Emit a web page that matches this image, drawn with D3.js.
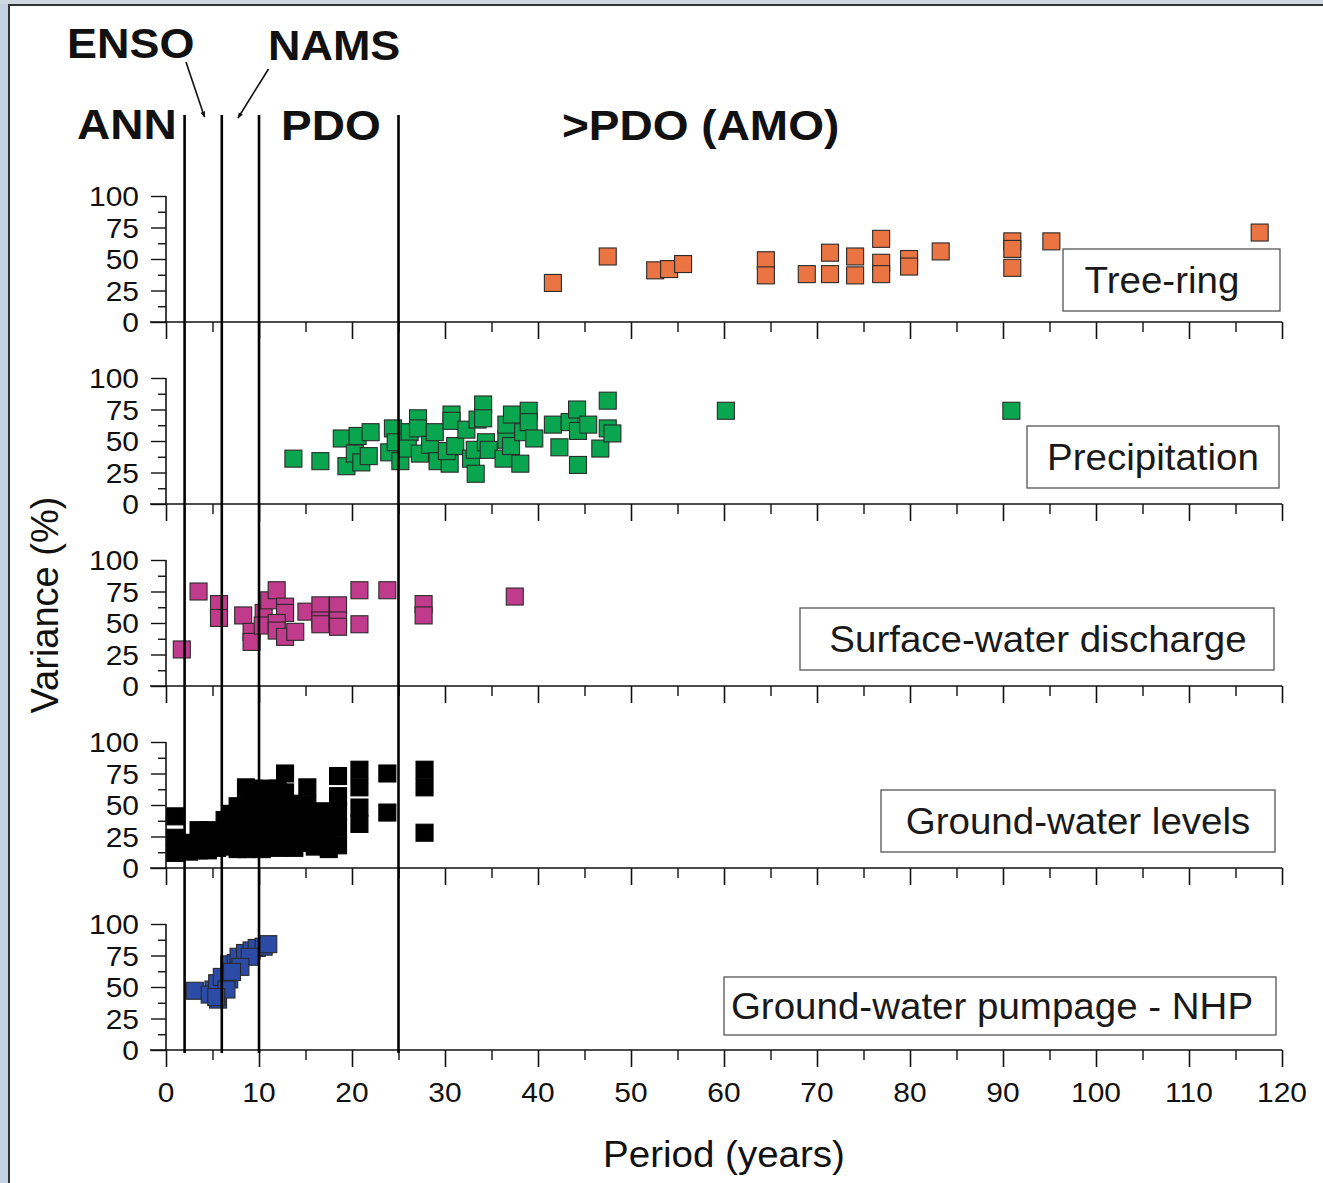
<!DOCTYPE html>
<html><head><meta charset="utf-8">
<script src="https://cdn.jsdelivr.net/npm/d3@7"></script>
<style>html,body{margin:0;padding:0;background:#fff;overflow:hidden}</style>
</head><body><svg id="c" width="1323" height="1183"></svg>
<script>
// ---------------- data ----------------
const periodTicks = [0,10,20,30,40,50,60,70,80,90,100,110,120];
const varianceTicks = [0,25,50,75,100];
const bandBoundaries = [2,6,10,25];
const seriesNames = ["Tree-ring","Precipitation","Surface-water discharge","Ground-water levels","Ground-water pumpage - NHP"];
const seriesColors = ["#ea7442","#0aa54f","#c03b8c","#000000","#2b4ba7"];

const treeRing = [[41.6,31],[47.5,52],[52.6,41],[54.1,42],[55.6,46],[64.5,49],[64.5,37],[68.9,38],
  [71.4,55],[71.4,38],[74.1,52],[74.1,37],[76.9,66],[76.9,47],[76.9,38],[79.9,50],[79.9,44],
  [83.3,56],[91,64],[91,58],[91,43],[95.2,64],[117.6,71]];

const precipitation = [[13.7,36],[16.6,34],[18.9,52],[19.4,30],[20.6,54],[20.3,40],[21,33],[21.8,38],
  [22,57],[24,41],[24.4,60],[24.7,49],[25.2,34],[26.2,57],[26,44],[27.1,68],[27.1,60],[27.3,40],
  [28.4,47],[28.9,57],[29.2,34],[30.5,32],[30.7,71],[30.7,66],[30.2,42],[31.1,46],[32.3,59],
  [32.8,36],[33.2,43],[33.3,24],[33.5,67],[34.1,79],[34.1,68],[34.4,49],[34.7,43],[36.3,36],
  [36.6,51],[36.6,63],[37.2,71],[37.1,46],[38.1,32],[38.4,57],[39,74],[39,65],[39.6,52],
  [41.6,63],[42.3,45],[43.4,65],[44.2,75],[44.3,58],[44.3,31],[45.4,63],[46.7,44],[47.5,82],
  [47.5,60],[48,56],[60.2,74],[90.9,74]];

const surfaceWater = [[1.7,29],[3.5,75],[5.7,65],[5.7,54],[8.3,56],[9.2,43],[9.2,35],[10.5,58],
  [10.4,48],[11.1,68],[11.9,76],[12.8,63],[12.8,58],[11.9,50],[11.9,44],[12.8,39],[13.9,43],
  [15.1,59],[16.6,64],[16.6,52],[16.6,49],[18.5,64],[18.5,52],[18.5,47],[20.8,76],[20.8,49],
  [23.8,76],[27.7,65],[27.7,56],[37.5,71]];

const groundWaterLevels = [[1.0,41],[1.0,24],[1.0,12],[1.6,18],
  [2.5,20],[2.5,13],[3.5,30],[3.5,20],[3.5,14],[4.5,30],[4.5,22],[4.5,14],[5.5,24],[5.5,16],
  [6.3,38],[6.3,27],[6.3,17],[7.0,43],[7.0,30],[7.0,18],[7.7,49],[7.7,36],[7.7,24],[7.7,15],
  [8.6,64],[8.6,50],[8.6,38],[8.6,26],[8.6,15],[9.4,63],[9.4,52],[9.4,40],[9.4,28],[9.4,16],
  [10.3,62],[10.3,50],[10.3,38],[10.3,26],[10.3,15],[11.2,63],[11.2,51],[11.2,39],[11.2,27],[11.2,17],
  [12.0,63],[12.0,50],[12.0,38],[12.0,26],[12.0,16],[12.8,75],[12.8,60],
  [13.8,51],[13.8,40],[13.8,28],[13.8,16],[14.5,45],[14.5,32],[14.5,20],
  [15.2,64],[15.2,50],[15.2,36],[15.2,22],[16.0,42],[16.0,30],[16.0,17],
  [16.7,45],[16.7,33],[16.7,20],[17.5,40],[17.5,27],[17.5,15],
  [18.5,73],[18.5,57],[18.5,45],[18.5,32],[18.5,18],
  [20.8,78],[20.8,64],[20.8,48],[20.8,35],[23.8,75],[23.8,44],[27.8,78],[27.8,64],[27.8,28]];

const pumpage = [[3.1,47],[5.1,48],[5.6,40],[4.7,44],[5.5,53],[6.0,58],[6.8,56],[6.5,48],[6.8,68],
  [7.5,69],[7.8,74],[8.5,77],[9.2,79],[9.75,81],[10.5,82],[11.0,84],[9.0,74],[8.0,66],[5.4,42],[7.1,62]];

const seriesData = [treeRing, precipitation, surfaceWater, groundWaterLevels, pumpage];

// ---------------- layout ----------------
const svg = d3.select("#c");
const FONT = "'Liberation Sans', Arial, Helvetica, sans-serif";
const SX = 1.07;
const panelZero = [322,504,686,868,1050];
const panelH = 126;
const x = d3.scaleLinear().domain([0,120]).range([166,1282]);

// frame
svg.append("rect").attr("x",0).attr("y",0).attr("width",1323).attr("height",1183).attr("fill","#fff");
svg.append("rect").attr("x",0).attr("y",0).attr("width",8).attr("height",1183).attr("fill","#c3d1e2");
svg.append("rect").attr("x",0).attr("y",0).attr("width",1323).attr("height",4).attr("fill","#cfd8e0");
svg.append("line").attr("x1",9).attr("x2",9).attr("y1",4).attr("y2",1183).attr("stroke","#333").attr("stroke-width",2);
svg.append("line").attr("x1",8).attr("x2",1323).attr("y1",5).attr("y2",5).attr("stroke","#333").attr("stroke-width",2);

function stext(g, tx, ty, str, size, anchor, weight){
  return g.append("text")
    .attr("transform", `translate(${tx},${ty}) scale(${SX},1)`)
    .attr("font-family", FONT).attr("font-size", size)
    .attr("font-weight", weight||"normal")
    .attr("text-anchor", anchor||"start")
    .attr("fill","#111").text(str);
}

const legendBoxes = [
  {x:1063,y:249,w:217,h:62,tx:1162},
  {x:1027,y:426,w:252,h:62,tx:1153},
  {x:800,y:608,w:474,h:62,tx:1038},
  {x:881,y:790,w:394,h:62,tx:1078},
  {x:724,y:977,w:552,h:58,tx:992}
];

seriesData.forEach((data, i) => {
  const y0 = panelZero[i];
  const y = d3.scaleLinear().domain([0,100]).range([y0, y0-panelH]);
  const g = svg.append("g");

  // x axis (ticks down)
  const xAx = d3.axisBottom(x).tickValues(periodTicks).tickSize(17).tickFormat(i===4 ? d3.format("d") : "");
  const xg = g.append("g").attr("transform",`translate(0,${y0})`).call(xAx);
  xg.select(".domain").remove();
  xg.selectAll("line").attr("stroke","#111").attr("stroke-width",1.6);
  xg.selectAll("text").remove();
  const xMinor = d3.axisBottom(x).tickValues(d3.range(5,120,10)).tickSize(10).tickFormat("");
  const xm = g.append("g").attr("transform",`translate(0,${y0})`).call(xMinor);
  xm.select(".domain").remove();
  xm.selectAll("line").attr("stroke","#111").attr("stroke-width",1.4);
  g.append("line").attr("x1",150).attr("x2",x(120)).attr("y1",y0).attr("y2",y0).attr("stroke","#111").attr("stroke-width",1.6);

  // y axis (ticks left)
  const yAx = d3.axisLeft(y).tickValues(varianceTicks).tickSize(15).tickFormat("");
  const yg = g.append("g").attr("transform",`translate(${x(0)},0)`).call(yAx);
  yg.select(".domain").remove();
  yg.selectAll("line").attr("stroke","#111").attr("stroke-width",1.4);
  const yMinor = d3.axisLeft(y).tickValues([12.5,37.5,62.5,87.5]).tickSize(8).tickFormat("");
  const ym = g.append("g").attr("transform",`translate(${x(0)},0)`).call(yMinor);
  ym.select(".domain").remove();
  ym.selectAll("line").attr("stroke","#111").attr("stroke-width",1.4);
  g.append("line").attr("x1",x(0)).attr("x2",x(0)).attr("y1",y(100)).attr("y2",y0).attr("stroke","#111").attr("stroke-width",1.6);
  varianceTicks.forEach(v => stext(g, 139, y(v)+10, String(v), 28, "end"));

  // markers
  const s = 17;
  g.append("g").selectAll("rect").data(data).join("rect")
    .attr("x", d => x(d[0]) - s/2).attr("y", d => y(d[1]) - s/2)
    .attr("width", s).attr("height", s)
    .attr("fill", seriesColors[i])
    .attr("stroke", i===3 ? "#000" : "#2a2a2a").attr("stroke-width", 1.1);

  // legend box
  const b = legendBoxes[i];
  g.append("rect").attr("x",b.x).attr("y",b.y).attr("width",b.w).attr("height",b.h)
    .attr("fill","#fff").attr("stroke","#555").attr("stroke-width",1.3);
  stext(g, b.tx, b.y + b.h/2 + 13, seriesNames[i], 36, "middle").attr("fill","#1a1a1a");
});

// bottom tick labels
periodTicks.forEach(t => stext(svg, x(t), 1102, String(t), 28, "middle"));

// vertical band lines (on top)
bandBoundaries.forEach(p => {
  svg.append("line").attr("x1",x(p)).attr("x2",x(p)).attr("y1",115).attr("y2",1053)
    .attr("stroke","#000").attr("stroke-width",2.6);
});

// band labels
stext(svg, 67, 58, "ENSO", 42, "start", "bold");
stext(svg, 268, 60, "NAMS", 42, "start", "bold");
stext(svg, 77, 139, "ANN", 43, "start", "bold");
stext(svg, 281, 140, "PDO", 43, "start", "bold");
stext(svg, 562, 140, ">PDO (AMO)", 43, "start", "bold");

// arrows
const defs = svg.append("defs");
defs.append("marker").attr("id","ah").attr("viewBox","0 0 10 10").attr("refX",9).attr("refY",5)
  .attr("markerWidth",6).attr("markerHeight",6).attr("markerUnits","userSpaceOnUse").attr("orient","auto")
  .append("path").attr("d","M0,1 L10,5 L0,9 Z").attr("fill","#111");
svg.append("line").attr("x1",186).attr("y1",62).attr("x2",204.5).attr("y2",117)
  .attr("stroke","#111").attr("stroke-width",1.6).attr("marker-end","url(#ah)");
svg.append("line").attr("x1",268.5).attr("y1",69).attr("x2",238).attr("y2",118)
  .attr("stroke","#111").attr("stroke-width",1.6).attr("marker-end","url(#ah)");

// axis titles
svg.append("text").attr("transform","translate(58,605) rotate(-90)")
  .attr("font-family",FONT).attr("font-size",38).attr("text-anchor","middle").attr("fill","#111")
  .text("Variance (%)");
stext(svg, 724, 1167, "Period (years)", 36, "middle");
</script></body></html>
